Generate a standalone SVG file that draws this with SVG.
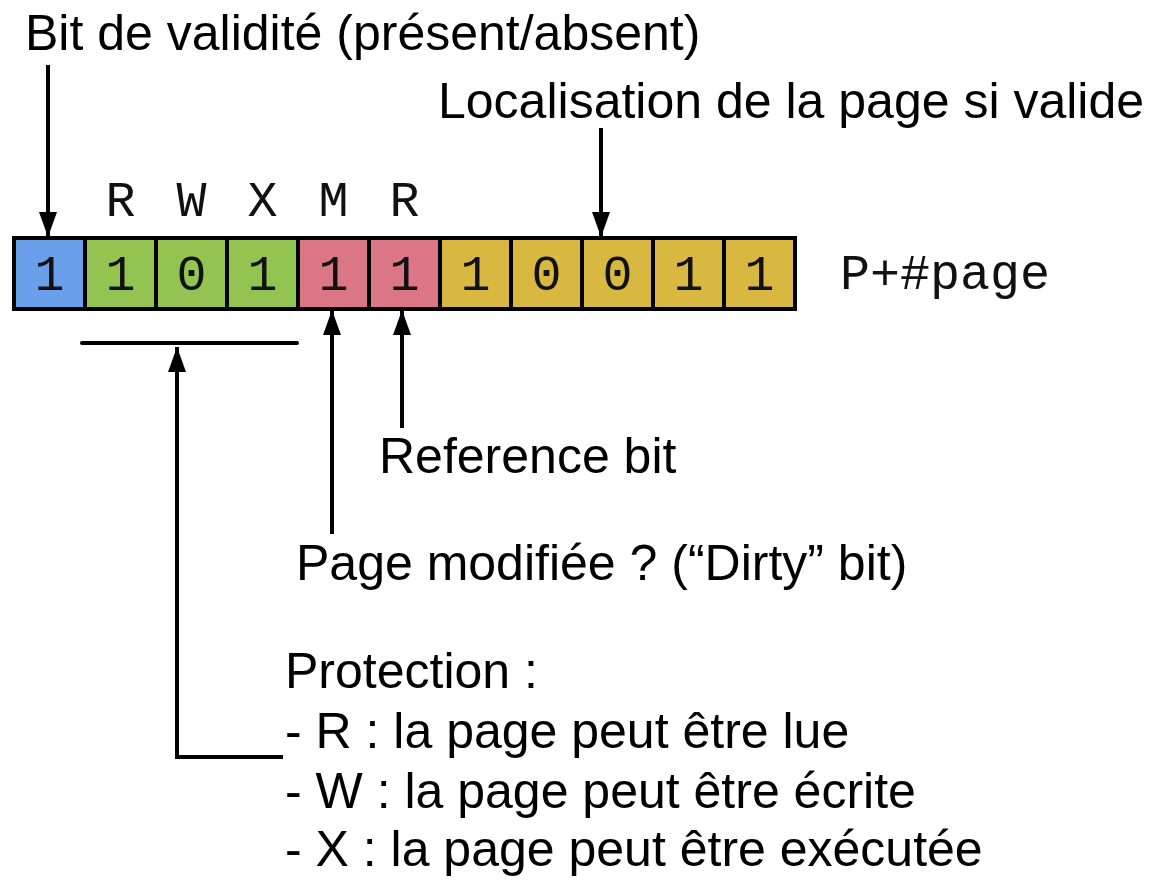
<svg xmlns="http://www.w3.org/2000/svg" width="1170" height="883" viewBox="0 0 1170 883">
<style>
.cell{stroke:#000;stroke-width:4}
.b{fill:#6A9FEA}.g{fill:#93C452}.p{fill:#DA7685}.y{fill:#D8B841}
.mono{font-family:"Liberation Mono","Courier New",monospace;font-size:50px;fill:#111}
.sans{font-family:"Liberation Sans",Arial,Helvetica,sans-serif;font-size:50px;fill:#000}
.ln{stroke:#000;stroke-width:4;fill:none;stroke-linecap:butt}
</style>
<defs>
<marker id="ah" viewBox="0 0 25 18" refX="25" refY="9" markerWidth="6.25" markerHeight="4.5" markerUnits="strokeWidth" orient="auto">
<path d="M0,0 L25,9 L0,18 z" fill="#000"/>
</marker>
</defs>
<rect width="1170" height="883" fill="#fff"/>
<g id="register">
<rect class="cell b" x="14" y="238" width="71" height="71"/>
<rect class="cell g" x="85" y="238" width="71" height="71"/>
<rect class="cell g" x="156" y="238" width="71" height="71"/>
<rect class="cell g" x="227" y="238" width="71" height="71"/>
<rect class="cell p" x="298" y="238" width="71" height="71"/>
<rect class="cell p" x="369" y="238" width="71" height="71"/>
<rect class="cell y" x="440" y="238" width="71" height="71"/>
<rect class="cell y" x="511" y="238" width="71" height="71"/>
<rect class="cell y" x="582" y="238" width="71" height="71"/>
<rect class="cell y" x="653" y="238" width="71" height="71"/>
<rect class="cell y" x="724" y="238" width="71" height="71"/>
<g class="mono" text-anchor="middle">
<text x="49.5" y="290">1</text>
<text x="120.5" y="290">1</text>
<text x="191.5" y="290">0</text>
<text x="262.5" y="290">1</text>
<text x="333.5" y="290">1</text>
<text x="404.5" y="290">1</text>
<text x="475.5" y="290">1</text>
<text x="546.5" y="290">0</text>
<text x="617.5" y="290">0</text>
<text x="688.5" y="290">1</text>
<text x="759.5" y="290">1</text>
</g>
</g>
<g id="bit-labels" class="mono" text-anchor="middle">
<text x="120.5" y="216">R</text>
<text x="191.5" y="216">W</text>
<text x="262.5" y="216">X</text>
<text x="333.5" y="216">M</text>
<text x="404.5" y="216">R</text>
</g>
<g id="ppage"><text class="mono" x="840" y="289">P+#page</text></g>
<g id="label-validite"><text class="sans" x="25" y="50">Bit de validité (présent/absent)</text></g>
<g id="label-localisation"><text class="sans" x="438" y="118">Localisation de la page si valide</text></g>
<g id="label-reference"><text class="sans" x="379" y="473">Reference bit</text></g>
<g id="label-dirty"><text class="sans" x="296" y="580">Page modifiée ? (“Dirty” bit)</text></g>
<g id="label-protection" class="sans">
<text x="285" y="688">Protection :</text>
<text x="285" y="748">- R : la page peut être lue</text>
<text x="285" y="808">- W : la page peut être écrite</text>
<text x="285" y="866">- X : la page peut être exécutée</text>
</g>
<g id="connectors">
<line class="ln" x1="48" y1="65" x2="48" y2="237" marker-end="url(#ah)"/>
<line class="ln" x1="601" y1="128" x2="601" y2="237" marker-end="url(#ah)"/>
<line class="ln" x1="332" y1="534" x2="332" y2="310" marker-end="url(#ah)"/>
<line class="ln" x1="402" y1="428" x2="402" y2="310" marker-end="url(#ah)"/>
<line class="ln" x1="82" y1="343" x2="297" y2="343" style="stroke-linecap:round"/>
<polyline class="ln" points="283,757 177,757 177,347" marker-end="url(#ah)"/>
</g>
</svg>
